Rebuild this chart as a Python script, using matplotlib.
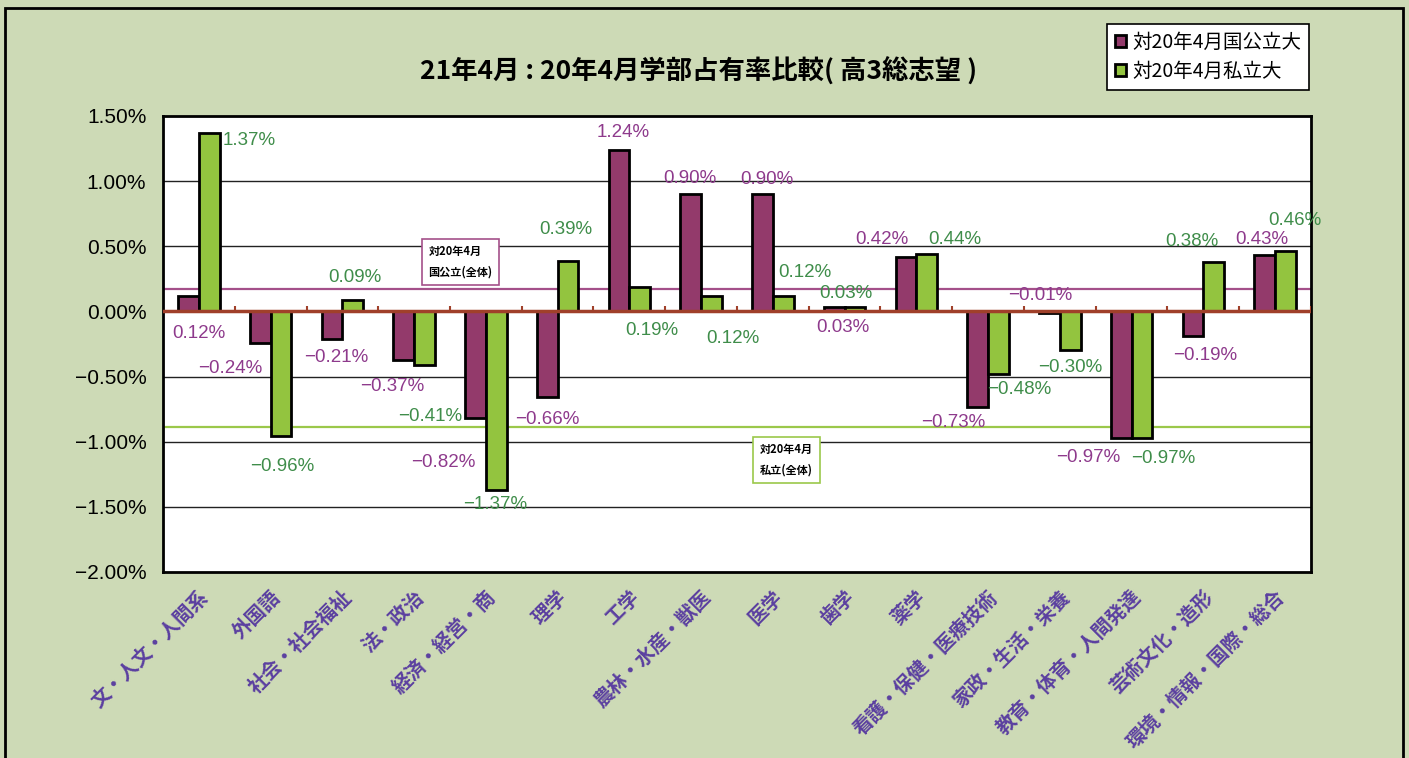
import matplotlib.pyplot as plt
import numpy as np
from matplotlib.patches import Rectangle

plt.rcParams['font.family'] = ['Noto Sans CJK JP', 'DejaVu Sans']

categories = ['文・人文・人間系', '外国語', '社会・社会福祉', '法・政治', '経済・経営・商',
              '理学', '工学', '農林・水産・獣医', '医学', '歯学', '薬学',
              '看護・保健・医療技術', '家政・生活・栄養', '教育・体育・人間発達',
              '芸術文化・造形', '環境・情報・国際・総合']
national = [0.12, -0.24, -0.21, -0.37, -0.82, -0.66, 1.24, 0.90, 0.90, 0.03,
            0.42, -0.73, -0.01, -0.97, -0.19, 0.43]
private = [1.37, -0.96, 0.09, -0.41, -1.37, 0.39, 0.19, 0.12, 0.12, 0.03,
           0.44, -0.48, -0.30, -0.97, 0.38, 0.46]
national_all = 0.17
private_all = -0.89
yticks = [1.5, 1.0, 0.5, 0.0, -0.5, -1.0, -1.5, -2.0]

# where the data labels sit (x in category units, y in %)
nat_lab_x = [0.0, 0.43, 1.92, 2.70, 3.40, 4.86, 5.92, 6.84, 7.92, 8.98, 9.52, 10.51, 11.72, 12.40, 14.02, 14.82]
nat_lab_y = [-0.17, -0.44, -0.35, -0.58, -1.16, -0.83, 1.37, 1.02, 1.01, -0.12, 0.55, -0.85, 0.12, -1.12, -0.34, 0.55]
pri_lab_x = [0.70, 1.16, 2.17, 3.22, 4.13, 5.11, 6.31, 7.44, 8.45, 9.02, 10.54, 11.44, 12.14, 13.44, 13.84, 15.28]
pri_lab_y = [1.31, -1.19, 0.26, -0.81, -1.48, 0.63, -0.15, -0.21, 0.30, 0.14, 0.55, -0.60, -0.43, -1.13, 0.54, 0.70]

c_nat = '#933a6b'
c_pri = '#93c43f'
c_nat_txt = '#8e3a8c'
c_pri_txt = '#3f8d4a'
bg = '#cddab6'
num_font = ['Liberation Sans', 'DejaVu Sans']


def pct(v):
    return f'{v:.2f}%'.replace('-', '−')


fig = plt.figure(figsize=(14.09, 7.58), dpi=100, facecolor=bg)
ax = fig.add_axes([0.1157, 0.2454, 0.8147, 0.6016])
ax.set_facecolor('white')

x = np.arange(len(categories))
w = 0.29
ax.bar(x - w / 2, national, w, color=c_nat, edgecolor='black', linewidth=2, zorder=3,
       label='対20年4月国公立大')
ax.bar(x + w / 2, private, w, color=c_pri, edgecolor='black', linewidth=2, zorder=3,
       label='対20年4月私立大')

ax.set_xlim(-0.5, len(categories) - 0.5)
ax.set_ylim(-2.0, 1.5)
ax.set_yticks(yticks)
ax.set_yticklabels([pct(v) for v in yticks], fontsize=15, family=num_font)
for v in yticks[1:-1]:
    if v != 0:
        ax.axhline(v, color='#222222', linewidth=1, zorder=1)

ax.axhline(national_all, color='#a4508a', linewidth=1.6, zorder=2)
ax.axhline(private_all, color='#9bc84a', linewidth=1.6, zorder=2)
ax.axhline(0, color='#a0402a', linewidth=2.5, zorder=4)
ax.vlines(np.arange(0.5, len(categories)), 0, 0.045, color='#a0402a', linewidth=1.5, zorder=4)

ax.set_xticks(x)
ax.set_xticklabels(categories, rotation=45, ha='right', rotation_mode='anchor',
                   fontsize=14, fontweight='bold', color='#5b3fa0')
ax.tick_params(axis='x', length=0, pad=11)
ax.tick_params(axis='y', length=0, pad=12)
for s in ax.spines.values():
    s.set_linewidth(2)

for v, lx, ly in zip(national, nat_lab_x, nat_lab_y):
    ax.text(lx, ly, pct(v), color=c_nat_txt, fontsize=13.5, family=num_font,
            ha='center', va='center', zorder=5)
for v, lx, ly in zip(private, pri_lab_x, pri_lab_y):
    ax.text(lx, ly, pct(v), color=c_pri_txt, fontsize=13.5, family=num_font,
            ha='center', va='center', zorder=5)

ax.text(3.2, 0.38, '対20年4月\n国公立(全体)', fontsize=8, fontweight='bold',
        ha='left', va='center', linespacing=1.7, zorder=6,
        bbox=dict(boxstyle='square,pad=0.6', fc='white', ec='#a4508a', lw=1.2))
ax.text(7.82, -1.14, '対20年4月\n私立(全体)', fontsize=8, fontweight='bold',
        ha='left', va='center', linespacing=1.7, zorder=6,
        bbox=dict(boxstyle='square,pad=0.6', fc='white', ec='#9bc84a', lw=1.2))

fig.text(0.496, 0.905, '21年4月 : 20年4月学部占有率比較( 高3総志望 )', fontsize=19,
         fontweight='bold', ha='center', va='center')

leg = fig.legend(loc='upper right', bbox_to_anchor=(0.929, 0.968), fontsize=14,
                 frameon=True, fancybox=False, edgecolor='black', facecolor='white',
                 framealpha=1, handlelength=0.6, handleheight=0.6, handletextpad=0.3,
                 borderpad=0.4, labelspacing=0.4, borderaxespad=0)
leg.get_frame().set_linewidth(1.2)

fig.patches.append(Rectangle((0.0035, -0.05), 0.9925, 1.04, transform=fig.transFigure,
                             fill=False, ec='black', lw=2))

fig.savefig('out.png', dpi=100, facecolor=bg)
